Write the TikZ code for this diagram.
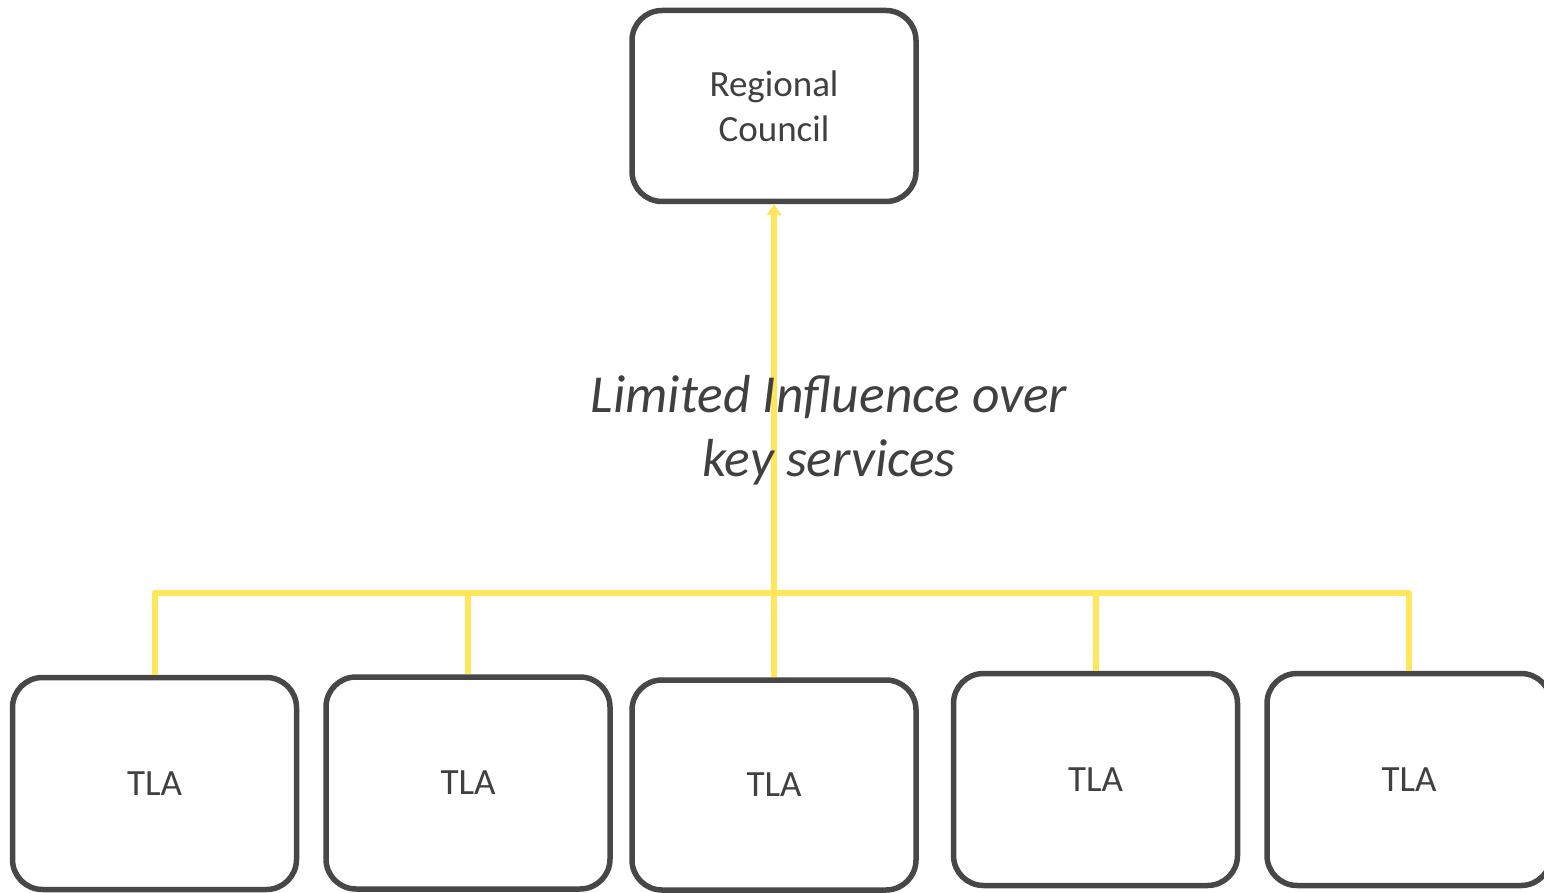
\documentclass[tikz,border=0pt]{standalone}
\usepackage{fontspec}
\setmainfont{Carlito}
\usetikzlibrary{arrows.meta, positioning}
\definecolor{boxgray}{HTML}{474747}
\definecolor{txtgray}{HTML}{404040}
\definecolor{linkyellow}{HTML}{FFE65A}

\begin{document}
\begin{tikzpicture}[line cap=round,line join=round,x=1pt,y=-1pt,
    unit/.style={draw=boxgray, line width=5.5pt, rounded corners=30pt, fill=white,
        minimum width=284pt, minimum height=212pt, text=txtgray,
        font=\fontsize{37}{45}\selectfont, align=center, inner sep=0pt},
    link/.style={draw=linkyellow, line width=6pt, line cap=butt}]
    \useasboundingbox (0,0) rectangle (1544,893);

    % council on top
    \node[unit, minimum height=191pt] (RC) at (774,106) {Regional\\Council};

    % territorial authorities
    \node[unit] (T1) at (154.5,783.5) {TLA};
    \node[unit] (T2) at (468,783) {TLA};
    \node[unit, minimum height=210pt] (T3) at (774,785) {TLA};
    \node[unit] (T4) at (1095.5,779.5) {TLA};
    \node[unit] (T5) at (1409,779.5) {TLA};

    % yellow bus
    \coordinate (bus) at (774,593);
    \foreach \tla in {T1, T2, T4, T5} {
            \draw[link] (\tla.north) |- (bus);
        }
    \draw[link, -{Triangle[length=11pt,width=15pt]}] (T3.north) -- (RC.south);

    \node[text=txtgray, font=\fontsize{53.5}{64}\selectfont\itshape, align=center] (infl) at (829,430)
        {Limited Influence over\\key services};

\end{tikzpicture}
\end{document}
